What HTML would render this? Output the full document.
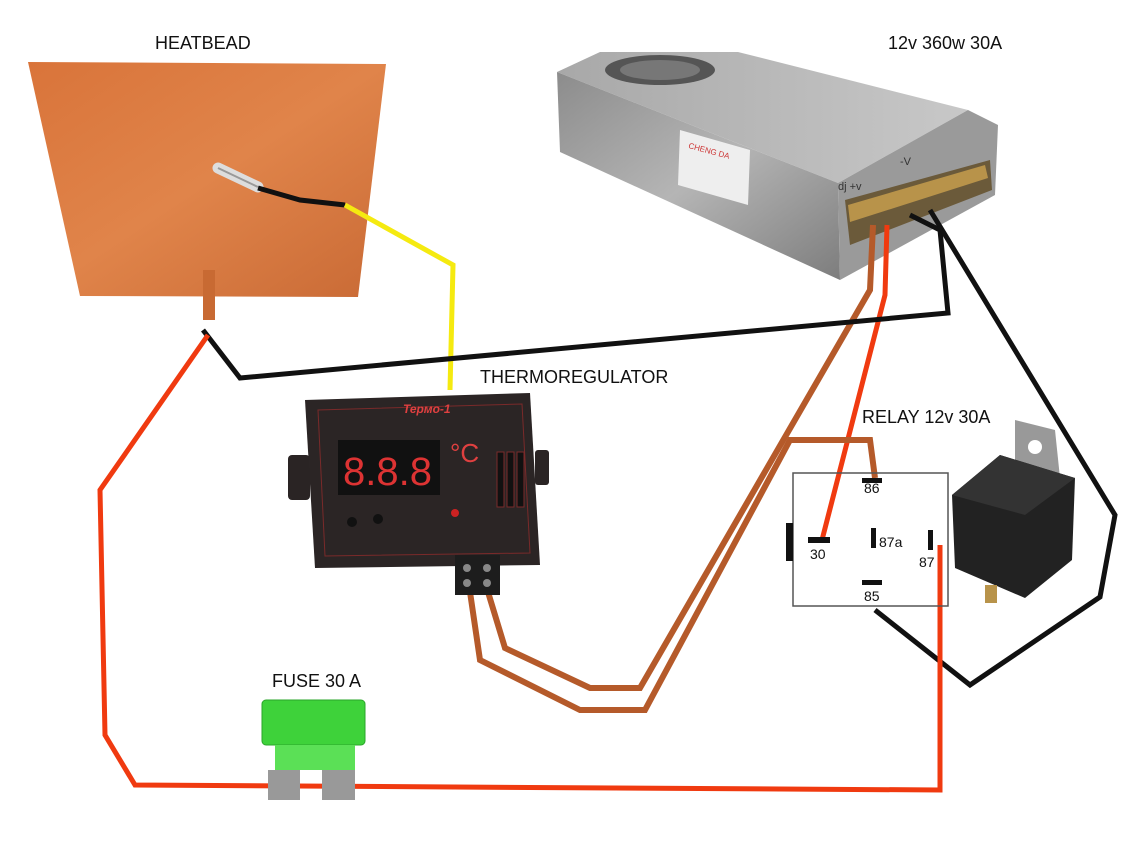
<!DOCTYPE html>
<html><head><meta charset="utf-8"><style>
html,body{margin:0;padding:0;background:#fff;width:1134px;height:853px;overflow:hidden}
svg{display:block}
text{font-family:"Liberation Sans",sans-serif}
</style></head><body>
<svg width="1134" height="853" viewBox="0 0 1134 853" xmlns="http://www.w3.org/2000/svg">
<defs>
<linearGradient id="hb" x1="0" y1="0" x2="1" y2="1">
<stop offset="0" stop-color="#d9743a"/><stop offset="0.5" stop-color="#e0844a"/><stop offset="1" stop-color="#c96a35"/></linearGradient>
<linearGradient id="ps" x1="0" y1="0" x2="1" y2="1">
<stop offset="0" stop-color="#8c8c8c"/><stop offset="0.5" stop-color="#b5b5b5"/><stop offset="1" stop-color="#7d7d7d"/></linearGradient>
<linearGradient id="pt" x1="0" y1="0" x2="1" y2="0">
<stop offset="0" stop-color="#a8a8a8"/><stop offset="1" stop-color="#c8c8c8"/></linearGradient>
</defs>
<rect width="1134" height="853" fill="#fff"/>

<!-- heatbed -->
<polygon points="28,62 386,64 358,297 80,296" fill="url(#hb)"/>
<rect x="203" y="270" width="12" height="50" fill="#c86a33"/>
<!-- probe -->
<line x1="218" y1="168" x2="258" y2="187" stroke="#ddd" stroke-width="11" stroke-linecap="round"/>
<line x1="218" y1="168" x2="258" y2="187" stroke="#999" stroke-width="2"/>
<polyline points="258,188 300,200 345,205" fill="none" stroke="#111" stroke-width="5"/>
<polyline points="345,205 453,265 450,390" fill="none" stroke="#f5ea10" stroke-width="5"/>

<!-- PSU -->
<polygon points="557,72 600,52 738,52 968,110 838,183" fill="url(#pt)"/>
<polygon points="557,72 838,183 840,280 560,152" fill="url(#ps)"/>
<polygon points="838,183 968,110 998,125 995,195 840,280" fill="#9a9a9a"/>
<polygon points="845,200 990,160 992,190 850,245" fill="#6b5a3a"/>
<polygon points="848,205 985,165 988,178 850,222" fill="#b8934a"/>
<ellipse cx="660" cy="70" rx="55" ry="15" fill="#555"/>
<ellipse cx="660" cy="70" rx="40" ry="10" fill="#777"/>
<polygon points="680,130 750,150 748,205 678,185" fill="#eee"/>
<text x="688" y="148" font-size="8" fill="#c33" transform="rotate(15 688 148)">CHENG DA</text>
<text x="838" y="190" font-size="11" fill="#333">dj +v</text>
<text x="900" y="165" font-size="11" fill="#333">-V</text>

<!-- PSU wires -->
<polyline points="873,225 870,290 640,688 590,688 505,648 488,592" fill="none" stroke="#b55a2a" stroke-width="6"/>
<polyline points="887,225 885,295 822,540" fill="none" stroke="#f03a10" stroke-width="5"/>
<polyline points="910,215 940,230 948,313 240,378 203,330" fill="none" stroke="#111" stroke-width="5"/>
<polyline points="930,210 1115,515 1100,597 970,685 875,610" fill="none" stroke="#111" stroke-width="5"/>

<!-- brown wire 2 -->
<polyline points="470,592 480,660 580,710 645,710 790,440 870,440 875,478" fill="none" stroke="#b55a2a" stroke-width="6"/>

<!-- red main -->
<polyline points="208,335 100,490 105,735 135,785 940,790 940,545" fill="none" stroke="#f03a10" stroke-width="5"/>

<!-- Thermoregulator -->
<rect x="288" y="455" width="22" height="45" rx="4" fill="#2a2424"/>
<rect x="535" y="450" width="14" height="35" rx="3" fill="#2a2424"/>
<polygon points="305,400 530,393 540,565 315,568" fill="#2b2525"/>
<polygon points="318,410 522,404 530,553 325,556" fill="none" stroke="#7a2a2a" stroke-width="1"/>
<rect x="338" y="440" width="102" height="55" fill="#111"/>
<text x="343" y="485" font-size="40" fill="#d33" font-family="Liberation Mono">8.8.8</text>
<text x="450" y="462" font-size="26" fill="#e04040">°C</text>
<text x="403" y="413" font-size="12" fill="#e04040" font-style="italic" font-weight="bold">Термо-1</text>
<rect x="497" y="452" width="7" height="55" fill="#111" stroke="#7a2a2a"/>
<rect x="507" y="452" width="7" height="55" fill="#111" stroke="#7a2a2a"/>
<rect x="517" y="452" width="7" height="55" fill="#111" stroke="#7a2a2a"/>
<circle cx="352" cy="522" r="5" fill="#111"/><circle cx="378" cy="519" r="5" fill="#111"/>
<circle cx="455" cy="513" r="4" fill="#c22"/>
<rect x="455" y="555" width="45" height="40" fill="#1d1d1d"/>
<circle cx="467" cy="568" r="4" fill="#888"/><circle cx="487" cy="568" r="4" fill="#888"/>
<circle cx="467" cy="583" r="4" fill="#888"/><circle cx="487" cy="583" r="4" fill="#888"/>

<!-- relay schematic -->
<rect x="793" y="473" width="155" height="133" fill="none" stroke="#555" stroke-width="1.5"/>
<rect x="786" y="523" width="7" height="38" fill="#111"/>
<rect x="862" y="478" width="20" height="5" fill="#111"/>
<rect x="808" y="537" width="22" height="6" fill="#111"/>
<rect x="871" y="528" width="5" height="20" fill="#111"/>
<rect x="928" y="530" width="5" height="20" fill="#111"/>
<rect x="862" y="580" width="20" height="5" fill="#111"/>
<text x="864" y="493" font-size="14" fill="#111">86</text>
<text x="810" y="559" font-size="14" fill="#111">30</text>
<text x="879" y="547" font-size="14" fill="#111">87a</text>
<text x="919" y="567" font-size="14" fill="#111">87</text>
<text x="864" y="601" font-size="14" fill="#111">85</text>

<!-- relay photo -->
<polygon points="1015,420 1055,430 1060,478 1015,470" fill="#999"/>
<circle cx="1035" cy="447" r="7" fill="#fff"/>
<polygon points="952,495 1000,455 1075,478 1072,560 1025,598 955,568" fill="#222"/>
<polygon points="952,495 1000,455 1075,478 1025,515" fill="#333"/>
<rect x="985" y="585" width="12" height="18" fill="#b8934a"/>

<!-- fuse -->
<rect x="262" y="700" width="103" height="45" rx="4" fill="#3ed23a" stroke="#2aa52a"/>
<rect x="275" y="745" width="80" height="25" fill="#5be056"/>
<rect x="268" y="770" width="32" height="30" fill="#999"/>
<rect x="322" y="770" width="33" height="30" fill="#999"/>

<!-- labels -->
<text x="155" y="49" font-size="18" fill="#111">HEATBEAD</text>
<text x="888" y="49" font-size="18" fill="#111">12v 360w 30A</text>
<text x="480" y="383" font-size="18" fill="#111">THERMOREGULATOR</text>
<text x="862" y="423" font-size="18" fill="#111">RELAY 12v 30A</text>
<text x="272" y="687" font-size="18" fill="#111">FUSE 30 A</text>
</svg>
</body></html>
